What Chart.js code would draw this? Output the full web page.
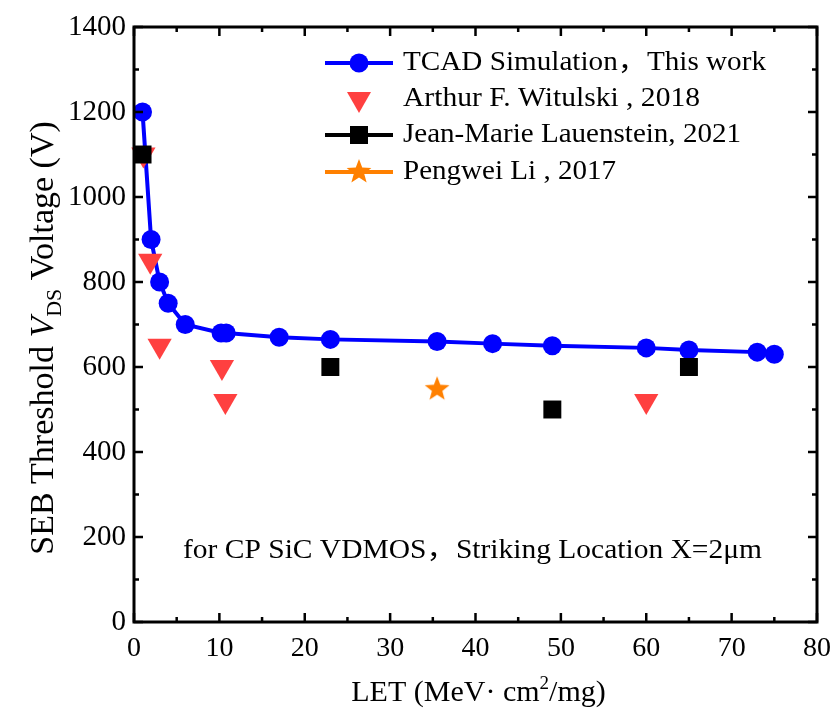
<!DOCTYPE html>
<html>
<head>
<meta charset="utf-8">
<script src="https://cdn.jsdelivr.net/npm/chart.js@4/dist/chart.umd.min.js"></script>
<style>
  body { margin: 0; background: #fff; }
  canvas { display: block; }
</style>
</head>
<body>
<canvas id="myChart" width="832" height="708"></canvas>
<script>
// TCAD simulation curve
const tcadLet = [1, 2, 3, 4, 6, 10.2, 10.8, 17, 23, 35.5, 42, 49, 60, 65, 73, 75];
const tcadVds = [1200, 900, 800, 750, 700, 680, 680, 670, 665, 660, 655, 650, 645, 640, 635, 630];

// Arthur F. Witulski, 2018
const witLet = [1.1, 1.9, 3, 10.3, 10.7, 60];
const witVds = [1100, 850, 650, 600, 520, 520];

// Jean-Marie Lauenstein, 2021
const lauLet = [1, 23, 49, 65];
const lauVds = [1100, 600, 500, 600];

// Pengwei Li, 2017
const liLet = [35.5];
const liVds = [550];

const legendNames = ['TCAD Simulation，This work', 'Arthur F. Witulski , 2018', 'Jean-Marie Lauenstein, 2021', 'Pengwei Li , 2017'];
const xTicks = [0, 10, 20, 30, 40, 50, 60, 70, 80];
const yTicks = [0, 200, 400, 600, 800, 1000, 1200, 1400];

const FONT = "'Liberation Serif', 'Times New Roman', 'Noto Sans CJK SC', serif";
const BLUE = '#0000ff', RED = '#ff4040', ORANGE = '#ff8000';

function pts(xs, ys) { return xs.map((x, i) => ({ x: x, y: ys[i] })); }

function makeStar(size, color) {
  const c = document.createElement('canvas');
  c.width = size; c.height = size;
  const g = c.getContext('2d');
  const cx = size / 2, cy = size / 2 + 1, ro = size / 2 - 1, ri = ro * 0.42;
  g.beginPath();
  for (let i = 0; i < 10; i++) {
    const r = i % 2 ? ri : ro;
    const a = -Math.PI / 2 + i * Math.PI / 5;
    g.lineTo(cx + r * Math.cos(a), cy + r * Math.sin(a));
  }
  g.closePath();
  g.fillStyle = color;
  g.fill();
  return c;
}
const star = makeStar(28, ORANGE);

// text stretched sideways to a given width (the original glyphs are wide)
function fillFit(ctx, text, x, y, w) {
  const m = ctx.measureText(text).width;
  ctx.save();
  ctx.translate(x, y);
  ctx.scale(w / m, 1);
  ctx.fillText(text, 0, 0);
  ctx.restore();
}

// frame, inward ticks, titles, legend, note
const decor = {
  id: 'decor',
  afterDraw(chart) {
    const ctx = chart.ctx, a = chart.chartArea;
    const xs = chart.scales.x, ys = chart.scales.y;
    ctx.save();
    ctx.strokeStyle = '#000';
    ctx.lineWidth = 3;
    ctx.strokeRect(a.left, a.top, a.right - a.left, a.bottom - a.top);
    ctx.lineWidth = 2.5;
    ctx.beginPath();
    for (let v = 0; v <= 80; v += 5) {
      const p = xs.getPixelForValue(v), l = v % 10 === 0 ? 9 : 5;
      ctx.moveTo(p, a.bottom); ctx.lineTo(p, a.bottom - l);
      ctx.moveTo(p, a.top); ctx.lineTo(p, a.top + l);
    }
    for (let v = 0; v <= 1400; v += 100) {
      const p = ys.getPixelForValue(v), l = v % 200 === 0 ? 9 : 5;
      ctx.moveTo(a.left, p); ctx.lineTo(a.left + l, p);
      ctx.moveTo(a.right, p); ctx.lineTo(a.right - l, p);
    }
    ctx.stroke();

    ctx.fillStyle = '#000';
    ctx.textBaseline = 'alphabetic';

    // x title
    const xParts = [['LET (MeV· cm', '30px ' + FONT, 0], ['2', '19px ' + FONT, -12], ['/mg)', '30px ' + FONT, 0]];
    let w = 0;
    xParts.forEach(p => { ctx.font = p[1]; w += ctx.measureText(p[0]).width; });
    let x = (a.left + a.right) / 2 + 3 - w / 2;
    xParts.forEach(p => { ctx.font = p[1]; ctx.fillText(p[0], x, 701 + p[2]); x += ctx.measureText(p[0]).width; });

    // y title
    ctx.save();
    ctx.translate(53, 338);
    ctx.rotate(-Math.PI / 2);
    const yParts = [['SEB Threshold ', '34px ' + FONT, 0], ['V', 'italic 34px ' + FONT, 0], ['DS', '22px ' + FONT, 8], [' Voltage (V)', '34px ' + FONT, 0]];
    w = 0;
    yParts.forEach(p => { ctx.font = p[1]; w += ctx.measureText(p[0]).width; });
    x = -w / 2;
    yParts.forEach(p => { ctx.font = p[1]; ctx.fillText(p[0], x, p[2]); x += ctx.measureText(p[0]).width; });
    ctx.restore();

    // note
    ctx.font = '27px ' + FONT;
    ctx.textBaseline = 'middle';
    fillFit(ctx, 'for CP SiC VDMOS，Striking Location X=2μm', 183, 551, 579);

    // legend
    const rows = [63, 99, 135, 172];
    const widths = [363, 297, 338, 213];
    const x0 = 325, x1 = 393, xm = 359;
    ctx.lineWidth = 4;
    [[BLUE, 'circle'], [null, 'tri'], ['#000', 'rect'], [ORANGE, 'star']].forEach((s, i) => {
      const y = rows[i];
      if (s[0]) {
        ctx.strokeStyle = s[0];
        ctx.beginPath(); ctx.moveTo(x0, y); ctx.lineTo(x1, y); ctx.stroke();
      }
      if (s[1] === 'circle') {
        ctx.fillStyle = BLUE;
        ctx.beginPath(); ctx.arc(xm, y, 9.5, 0, Math.PI * 2); ctx.fill();
      } else if (s[1] === 'tri') {
        ctx.fillStyle = RED;
        ctx.beginPath(); ctx.moveTo(xm - 12, y - 7); ctx.lineTo(xm + 12, y - 7); ctx.lineTo(xm, y + 14); ctx.closePath(); ctx.fill();
      } else if (s[1] === 'rect') {
        ctx.fillStyle = '#000';
        ctx.fillRect(xm - 9, y - 9, 18, 18);
      } else {
        ctx.drawImage(star, xm - 14, y - 15);
      }
      ctx.fillStyle = '#000';
      ctx.font = '27px ' + FONT;
      fillFit(ctx, legendNames[i], 403, y, widths[i]);
    });
    ctx.restore();
  }
};

const whiteBg = {
  id: 'whiteBg',
  beforeDraw(chart) {
    const ctx = chart.ctx;
    ctx.save();
    ctx.fillStyle = '#fff';
    ctx.fillRect(0, 0, chart.width, chart.height);
    ctx.restore();
  }
};

new Chart('myChart', {
  type: 'scatter',
  data: {
    datasets: [
      {
        label: legendNames[0], data: pts(tcadLet, tcadVds), showLine: true,
        borderColor: BLUE, backgroundColor: BLUE, borderWidth: 4,
        pointRadius: 9.5, pointHoverRadius: 9.5, pointBorderWidth: 0, order: 2
      },
      {
        label: legendNames[1], data: pts(witLet, witVds),
        pointStyle: 'triangle', rotation: 180, pointRadius: 14, pointHoverRadius: 14,
        backgroundColor: RED, borderColor: RED, pointBorderWidth: 0, order: 1
      },
      {
        label: legendNames[2], data: pts(lauLet, lauVds),
        pointStyle: 'rect', pointRadius: 12.7, pointHoverRadius: 12.7,
        backgroundColor: '#000', borderColor: '#000', pointBorderWidth: 0, order: 0
      },
      {
        label: legendNames[3], data: pts(liLet, liVds),
        pointStyle: star, pointRadius: 14, order: 0
      }
    ]
  },
  options: {
    responsive: false,
    animation: false,
    clip: false,
    layout: { padding: { top: 27, right: 15, left: 0, bottom: 0 } },
    plugins: { legend: { display: false }, tooltip: { enabled: false } },
    scales: {
      x: {
        type: 'linear', min: 0, max: 80,
        afterBuildTicks: s => { s.ticks = xTicks.map(v => ({ value: v })); },
        afterFit: s => { s.height = 86; s.paddingLeft = 0; s.paddingRight = 0; },
        grid: { display: false, drawTicks: false },
        border: { display: false },
        ticks: { color: '#000', font: { family: FONT, size: 28 }, padding: 10, autoSkip: false, maxRotation: 0, callback: v => String(v) }
      },
      y: {
        type: 'linear', min: 0, max: 1400,
        afterBuildTicks: s => { s.ticks = yTicks.map(v => ({ value: v })); },
        afterFit: s => { s.width = 134; s.paddingTop = 0; s.paddingBottom = 0; },
        grid: { display: false, drawTicks: false },
        border: { display: false },
        ticks: { color: '#000', font: { family: FONT, size: 29 }, padding: 8, autoSkip: false, callback: v => String(v) }
      }
    }
  },
  plugins: [whiteBg, decor]
});
</script>
</body>
</html>
